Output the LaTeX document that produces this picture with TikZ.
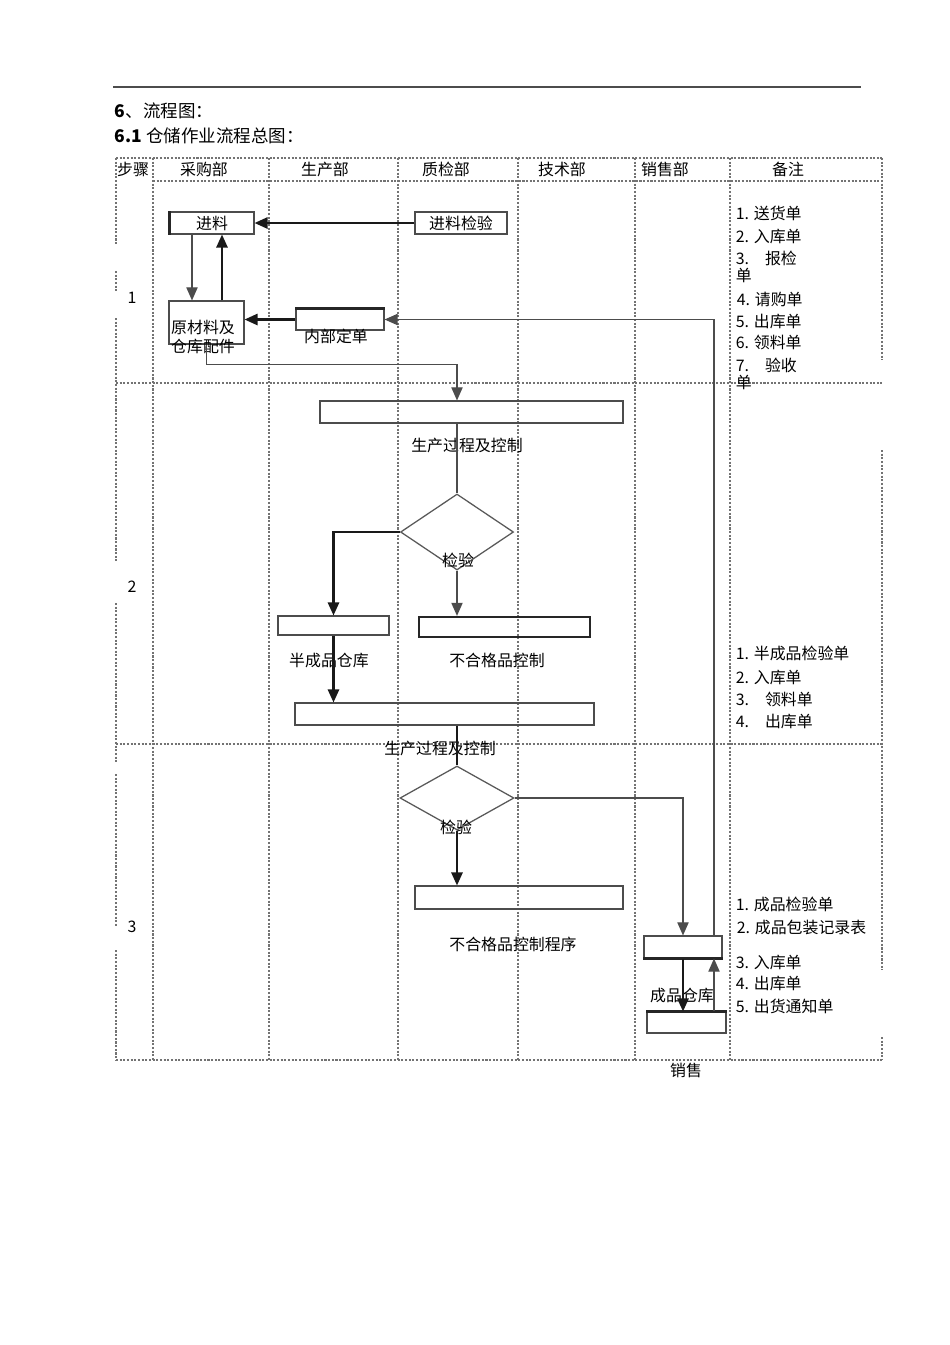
\documentclass[tikz,border=0pt]{standalone}
\usepackage{fontspec}
\setmainfont{Noto Sans CJK SC}
\usetikzlibrary{arrows.meta,shapes.geometric,calc}

\tikzset{
  grid/.style={draw=black!55, densely dotted, line width=1.3pt},
  box/.style 2 args={draw=black!70, line width=0.7pt, minimum width=#1*0.221mm, minimum height=#2*0.221mm, inner sep=0pt},
  check/.style 2 args={diamond, draw=black!65, line width=0.8pt, minimum width=#1*0.221mm, minimum height=#2*0.221mm, inner sep=0pt},
  edge/.style={draw=black!85, line width=1.4pt},
  arr/.style={draw=black!70, line width=0.7pt, -{Triangle[length=2.9mm,width=2.5mm]}},
  heavyarr/.style={draw=black!90, line width=1.3pt, -{Triangle[length=2.9mm,width=2.5mm]}},
  note/.style={anchor=west, align=left, font=\fontsize{10}{10.5}\selectfont}
}

\begin{document}
\begin{tikzpicture}[x=0.221mm,y=-0.221mm,
  every node/.style={font=\fontsize{10}{12}\selectfont, inner sep=1pt}]
\useasboundingbox (0,0) rectangle (950,1345);

%heading
\draw[black!70, line width=0.7pt] (113,87) -- (861,87);
\node[anchor=base west, font=\fontsize{11}{13}\selectfont] (title) at (113,117) {\textbf{6}、流程图：};
\node[anchor=base west, font=\fontsize{11}{13}\selectfont] (subtitle) at (113,142) {\textbf{6.1} 仓储作业流程总图：};

%table grid
\draw[grid] (116,158) -- (882,158);
\draw[grid] (153,181) -- (882,181);
\foreach \y in {383,744,1060} \draw[grid] (116,\y) -- (882,\y);
\foreach \x in {153,269,398,518,635,730} \draw[grid] (\x,158) -- (\x,1060);
\foreach \a/\b in {158/244,271/291,318/562,603/762,774/926,950/1060} \draw[grid] (116,\a) -- (116,\b);
\foreach \a/\b in {158/360,450/970,1037/1060} \draw[grid] (882,\a) -- (882,\b);

%table heads
\node (hstep) at (133,169) {步骤};
\node (hbuy) at (204,169) {采购部};
\node (hmake) at (325,169) {生产部};
\node (hqc) at (446,169) {质检部};
\node (htech) at (562,169) {技术部};
\node (hsale) at (665,169) {销售部};
\node (hnote) at (788,169) {备注};
\node (s1) at (132,298) {1};
\node (s2) at (132,587) {2};
\node (s3) at (132,927) {3};

%step 1
\node[box={84}{22}] (feed) at (212,223) {进料};
\node[box={92}{22}] (inspect) at (461,223) {进料检验};
\node[box={75}{43}] (raw) at (206.5,322.5) {};
\node[align=left, font=\fontsize{10}{12.5}\selectfont] (rawlbl) at (203,337) {原材料及\\仓库配件};
\node[box={88}{21}] (order) at (340,319.5) {};
\node (orderlbl) at (336,336) {内部定单};
\draw[edge] (feed.north west) -- (feed.south west);
\draw[edge] (order.north west) -- (order.north east);

\draw[heavyarr] (inspect.west) -- (feed.east);
\draw[arr] ($(feed.south)+(-20,0)$) -- ($(raw.north)+(-14.5,0)$);
\draw[heavyarr] ($(raw.north)+(15.5,0)$) -- ($(feed.south)+(10,0)$);
\draw[heavyarr] (order.west) -- (order.west -| raw.east);

%step 2
\node[box={303}{22}] (prod1) at (471.5,412) {};
\node (prod1lbl) at (467,445) {生产过程及控制};
\node[check={113}{76}] (check1) at (457,532) {};
\node (check1lbl) at (458,560) {检验};
\node[box={111}{19}] (semi) at (333.5,625.5) {};
\node (semilbl) at (329,660) {半成品仓库};
\node[box={171}{20}, edge] (reject1) at (504.5,627) {};
\node (reject1lbl) at (497,660) {不合格品控制};
\node[box={299}{22}] (prod2) at (444.5,714) {};
\node (prod2lbl) at (440,748) {生产过程及控制};

\draw[arr] (raw.south) |- ($(prod1.north -| check1.north)+(0,-36)$) -- (prod1.north -| check1.north);
\draw[draw=black!70, line width=0.7pt] (prod1.south -| check1.north) -- (check1.north);
\draw[heavyarr] (check1.west) -| (semi.north);
\draw[arr] (check1.south) -- (check1.south |- reject1.north);
\draw[heavyarr] (semi.south) -- (semi.south |- prod2.north);

%step 3
\node[check={114}{64}] (check2) at (457,798) {};
\node (check2lbl) at (456,827) {检验};
\node[box={208}{23}] (reject2) at (519,897.5) {};
\node (reject2lbl) at (513,944) {不合格品控制程序};
\node[box={78}{22}] (store) at (683,947) {};
\node (storelbl) at (682,995) {成品仓库};
\node[box={79}{21}] (sell) at (686.5,1022.5) {};
\node (selllbl) at (686,1070) {销售};
\draw[edge] (store.south west) -- (store.south east);
\draw[edge] (sell.north west) -- (sell.north east);

\draw[draw=black!90, line width=1.3pt] (prod2.south -| check2.north) -- (check2.north);
\draw[heavyarr] (check2.south) -- (check2.south |- reject2.north);
\draw[arr] (check2.east) -| (store.north);
\draw[heavyarr] (store.south) -- (store.south |- sell.north);
\draw[arr] ($(sell.north)+(27.5,0)$) -- ($(store.south)+(31,0)$);
\draw[arr] ($(store.north)+(31,0)$) |- (order.east);

%step 1 notes
\node[note] (n11) at (734,213) {1. 送货单};
\node[note] (n12) at (734,236) {2. 入库单};
\node[note] (n13) at (734,267) {3.\quad 报检\\单};
\node[note] (n14) at (735,299) {4. 请购单};
\node[note] (n15) at (734,321) {5. 出库单};
\node[note] (n16) at (734,342) {6. 领料单};
\node[note] (n17) at (734,374) {7.\quad 验收\\单};

%step 2 notes
\node[note] (n21) at (734,653) {1. 半成品检验单};
\node[note] (n22) at (734,677) {2. 入库单};
\node[note] (n23) at (734,699) {3.\quad 领料单};
\node[note] (n24) at (734,721) {4.\quad 出库单};

%step 3 notes
\node[note] (n31) at (734,904) {1. 成品检验单};
\node[note] (n32) at (735,927) {2. 成品包装记录表};
\node[note] (n33) at (734,962) {3. 入库单};
\node[note] (n34) at (734,983) {4. 出库单};
\node[note] (n35) at (734,1006) {5. 出货通知单};

\end{tikzpicture}
\end{document}
